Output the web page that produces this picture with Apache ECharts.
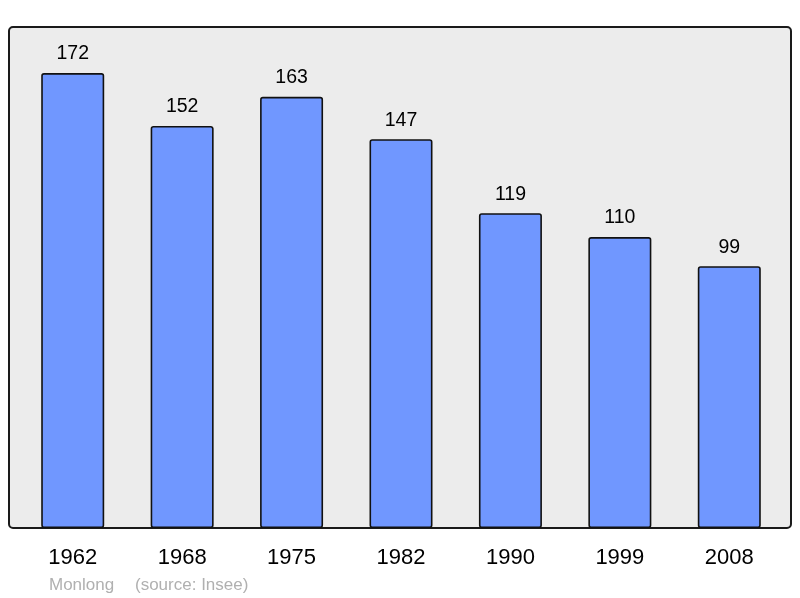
<!DOCTYPE html>
<html>
<head>
<meta charset="utf-8">
<script src="https://cdn.jsdelivr.net/npm/echarts@6/dist/echarts.min.js"></script>
<style>html,body{margin:0;padding:0;background:#fff;}#c{width:800px;height:598px;}</style>
</head>
<body>
<div id="c"></div>
<script>
const years = ['1962','1968','1975','1982','1990','1999','2008'];
const population = [172,152,163,147,119,110,99];
const commune = 'Monlong';
const source = '(source: Insee)';

const chart = echarts.init(document.getElementById('c'), null, {renderer:'canvas'});
chart.setOption({
  animation: false,
  backgroundColor: '#ffffff',
  grid: {left: 18, right: 16, top: 27, bottom: 70},
  xAxis: {
    type: 'category', data: years,
    axisLine: {show: false}, axisTick: {show: false},
    axisLabel: {margin: 19, fontSize: 22, color: '#000', fontFamily: 'Liberation Sans'}
  },
  yAxis: {type: 'value', min: 0, max: 189.4, show: false, splitLine: {show: false}},
  graphic: [
    {type: 'rect', z: -10, shape: {x: 9, y: 27, width: 782, height: 501, r: 4},
     style: {fill: '#ececec', stroke: '#1a1a1a', lineWidth: 2}},
    {type: 'text', left: 49, top: 577, style: {text: commune, fill: '#b0b0b0', fontSize: 17, fontFamily: 'Liberation Sans'}},
    {type: 'text', left: 135, top: 577, style: {text: source, fill: '#b0b0b0', fontSize: 17, fontFamily: 'Liberation Sans'}}
  ],
  series: [{
    type: 'bar', data: population, barWidth: 63, z: 5,
    itemStyle: {color: '#7097ff', borderColor: '#111', borderWidth: 1.6, borderRadius: 2},
    label: {show: true, position: 'top', distance: 9, fontSize: 19.5, color: '#000', fontFamily: 'Liberation Sans'}
  }]
});
</script>
</body>
</html>
